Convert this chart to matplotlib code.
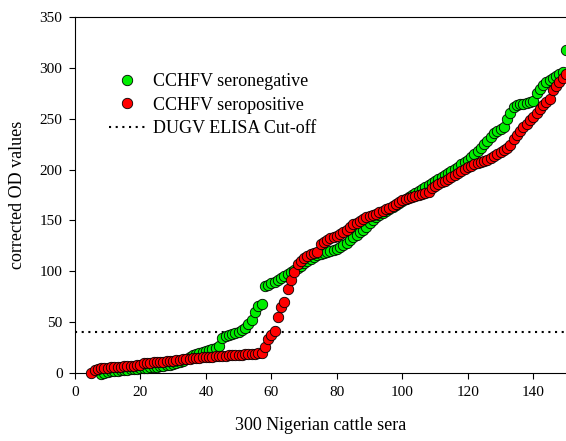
import numpy as np
import matplotlib
matplotlib.use("Agg")
import matplotlib.pyplot as plt
from matplotlib.lines import Line2D

plt.rcParams['font.family'] = ['Liberation Serif', 'DejaVu Serif']

# Seropositive (red), ranks 5..150
pos_start = 5
pos_values = [
    0, 3, 4, 4.5, 5, 5, 5.5, 5.5, 6, 6, 6.5, 6.5, 7, 7, 7.5, 8,            # 5-20
    9.5, 10, 10, 10.5, 10.5, 11, 11, 11.5, 12, 12, 12.5, 13, 13.5, 14, 14,  # 21-35
    14.5, 15, 15, 15.5, 15.5, 16, 16, 16.5, 16.5, 17, 17, 17.5, 17.5, 18, 18,  # 36-50
    18, 18.5, 18.5, 19, 19, 19.5, 20, 26, 33, 37, 41, 55, 65, 70, 83,       # 51-65
    91, 99, 107, 110, 113, 115, 117, 118, 119, 127, 129, 131, 133, 134, 135,  # 66-80
    137, 139, 141, 144, 146, 147, 149, 151, 153, 154, 155, 156, 158, 159, 161,  # 81-95
    162, 164, 166, 168, 170, 171, 172, 173, 174, 175, 176, 177, 178, 182, 184,  # 96-110
    186, 188, 189, 191, 193, 195, 197, 199, 201, 203, 204, 205, 206, 207, 208,  # 111-125
    209, 211, 213, 215, 217, 219, 221, 224, 230, 234, 238, 242, 245, 249, 252,  # 126-140
    256, 260, 263, 266, 269, 278, 282, 286, 290, 294,                      # 141-150
]

# Seronegative (green), ranks 8..150
neg_start = 8
neg_values = [
    -1, 0, 1, 1.5, 2, 2, 2.5, 3, 3, 3.5, 4, 4, 4.5,                        # 8-20
    5, 5, 5.5, 6, 6, 6.5, 7, 7.5, 8, 9, 10, 11, 12, 14, 16,                # 21-35
    18, 19, 20, 21, 22, 23, 24, 25, 27, 34, 36, 37, 38, 39, 40,            # 36-50
    42, 44, 48, 52, 60, 66, 68, 86, 87, 88, 89, 91, 93, 95, 97,            # 51-65
    99, 101, 103, 105, 108, 110, 112, 114, 116, 117, 118, 119, 120, 121, 122,  # 66-80
    124, 126, 128, 131, 134, 136, 139, 141, 144, 147, 150, 153, 155, 157, 159,  # 81-95
    161, 163, 165, 167, 169, 171, 173, 175, 177, 179, 181, 183, 185, 187, 189,  # 96-110
    191, 193, 195, 197, 199, 201, 203, 205, 207, 209, 212, 215, 218, 221, 225,  # 111-125
    228, 232, 236, 238, 240, 242, 250, 256, 262, 263, 264, 264, 265, 266, 267,  # 126-140
    275, 279, 283, 286, 288, 290, 292, 294, 296, 318,                      # 141-150
]

cutoff = 40
xticks = [0, 20, 40, 60, 80, 100, 120, 140]
yticks = [0, 50, 100, 150, 200, 250, 300, 350]

x_pos = np.arange(pos_start, pos_start + len(pos_values))
x_neg = np.arange(neg_start, neg_start + len(neg_values))

fig = plt.figure(figsize=(5.66, 4.41), dpi=100)
ax = fig.add_axes([75/566, 1 - 373/441, 1 - 75/566, (373 - 17)/441])

green = '#00ee00'
red = '#ff0000'
ms = 7.5

ax.axhline(cutoff, color='black', lw=1.5, linestyle=(0, (1, 2.2)), zorder=1)
ax.plot(x_neg, neg_values, 'o', color=green, mec='black', mew=0.6, ms=ms,
        clip_on=False, zorder=3)
ax.plot(x_pos, pos_values, 'o', color=red, mec='black', mew=0.6, ms=ms,
        clip_on=False, zorder=4)

ax.set_xlim(0, 150)
ax.set_ylim(0, 350)
ax.set_xticks(xticks)
ax.set_yticks(yticks)
ax.tick_params(direction='out', length=4, width=0.8, labelsize=11, pad=5)
ax.spines['right'].set_visible(False)
for s in ['left', 'bottom', 'top']:
    ax.spines[s].set_linewidth(0.8)

ax.set_xlabel('300 Nigerian cattle sera', fontsize=13, labelpad=13)
ax.set_ylabel('corrected OD values', fontsize=13, labelpad=10)

handles = [
    Line2D([], [], marker='o', ls='none', color=green, mec='black', mew=0.6, ms=ms),
    Line2D([], [], marker='o', ls='none', color=red, mec='black', mew=0.6, ms=ms),
    Line2D([], [], color='black', lw=1.5, linestyle=(0, (1, 2.2))),
]
labels = ['CCHFV seronegative', 'CCHFV seropositive', 'DUGV ELISA Cut-off']
ax.legend(handles, labels, loc='upper left', bbox_to_anchor=(0.055, 0.862),
          frameon=False, fontsize=13, handlelength=2.0, handletextpad=0.45,
          labelspacing=0.35, borderaxespad=0)

fig.savefig('out.png', dpi=100)
